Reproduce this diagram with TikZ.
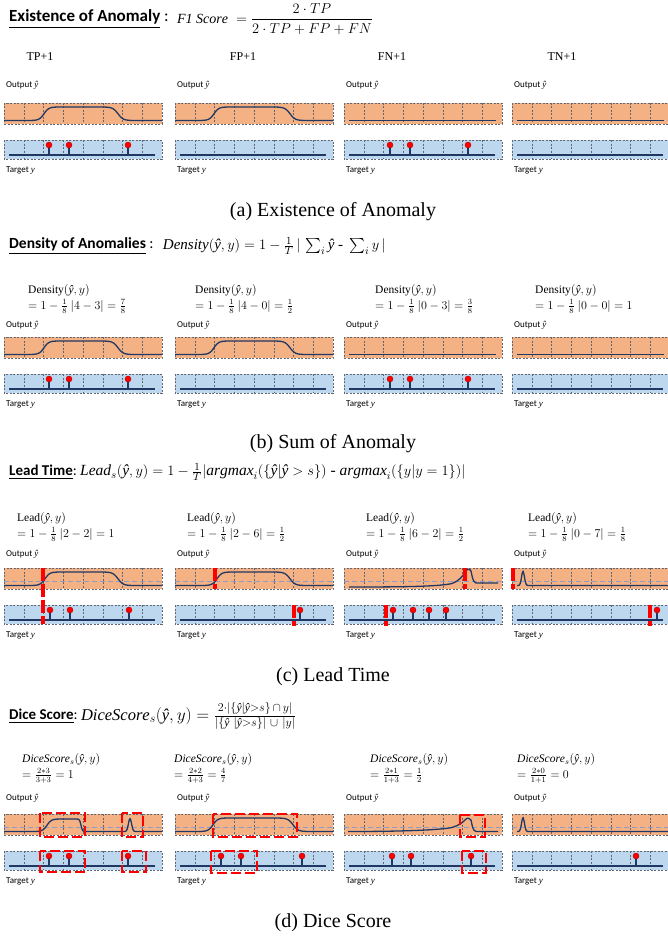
\documentclass[tikz,border=0pt]{standalone}
\usepackage{amsmath, amssymb}
\usepackage{fontspec}
\setmainfont{Liberation Serif}
\newfontfamily\calibri{Carlito}
\usepackage{xcolor}
\usetikzlibrary{calc, positioning}

\definecolor{outfill}{HTML}{F4B183}
\definecolor{tgtfill}{HTML}{BDD7EE}
\definecolor{navy}{HTML}{203864}
\definecolor{gridc}{HTML}{5F6775}
\definecolor{thrc}{HTML}{8E9CC9}

% y hat as one glyph
\newcommand{\yh}{\text{\normalfont\rmfamily\itshape ŷ}}

% output lane (orange) and target lane (blue) of one column
\newcommand{\lanes}{%
  \fill[outfill] (0,0) rectangle (158,21);
  \fill[tgtfill] (0,37) rectangle (158,56);
  \foreach \i in {1,...,7} {
    \draw[gridln] (19.75*\i,0) -- (19.75*\i,21);
    \draw[gridln] (19.75*\i,37) -- (19.75*\i,56);
  }
  \draw[gridln] (0,0) rectangle (158,21);
  \draw[gridln] (0,37) rectangle (158,56);
  \draw[curve] (5,52) -- (151,52);
}
% anomalies on the target lane
\newcommand{\pins}[1]{%
  \foreach \p in {#1} {
    \draw[stem] (\p,52) -- (\p,42);
    \filldraw[pinhead] (\p,42) circle (3);
  }
}

\begin{document}
\begin{tikzpicture}[x=1pt, y=-1pt,
    declare function={
      sig(\z)=1/(1+exp(-max(min(\z,9),-9)));
      bump(\t,\c,\w)=exp(-min(((\t-\c)/\w)*((\t-\c)/\w),9));
      plat(\t,\a,\b)=17.5-13.5*(sig((\t-\a)/2.4)-sig((\t-\b)/2.6));
    },
    gridln/.style={draw=gridc, line width=0.5pt, dash pattern=on 2pt off 1.5pt},
    curve/.style={draw=navy, line width=1.3pt, line join=round},
    stem/.style={draw=navy, line width=1.2pt},
    pinhead/.style={fill=red, draw=red!70!black, line width=0.4pt},
    thr/.style={draw=thrc, line width=0.9pt, dash pattern=on 5pt off 3pt},
    leadmk/.style={draw=red, line width=3.5pt, dash pattern=on 13pt off 3pt},
    dicebox/.style={draw=red, line width=2.8pt, dash pattern=on 10pt off 4pt},
    hdr/.style={anchor=west, inner sep=0pt, font=\calibri\bfseries\fontsize{15}{18}\selectfont},
    frm/.style={anchor=west, inner sep=0pt, font=\fontsize{15}{18}\selectfont},
    sub/.style={inner sep=0pt, font=\fontsize{12}{14}\selectfont},
    sub2/.style={anchor=north west, align=left, inner sep=0pt, font=\fontsize{11.5}{16}\selectfont},
    smalllbl/.style={anchor=west, inner sep=0pt, font=\calibri\fontsize{9}{10}\selectfont},
    capt/.style={inner sep=0pt, font=\fontsize{20}{24}\selectfont}]
    \useasboundingbox (0,0) rectangle (667,939);

    % Lanes of all four rows
    \foreach \s/\Y/\oy in {a/103/85, b/337/325, c/568/554, d/814/798} {
      \foreach \k/\xo in {1/4, 2/175, 3/344, 4/512} {
        \begin{scope}[shift={(\xo,\Y)}]
          \lanes
        \end{scope}
        \node[smalllbl] (out\s\k) at (\xo+2,\oy) {Output {\rmfamily\itshape ŷ}};
        \node[smalllbl] (tgt\s\k) at (\xo+2,\Y+68) {Target {\rmfamily\itshape y}};
      }
    }

    % (a) Existence of anomaly
    \node[hdr, font=\calibri\bfseries\fontsize{17}{20}\selectfont] (hdA) at (9,19) {\underline{Existence of Anomaly}\mdseries\ :};
    \node[frm, font=\fontsize{14}{17}\selectfont, right=8pt of hdA] (fA) {$\mathit{F1}\ \mathit{Score}\;=\dfrac{2\cdot TP}{2\cdot TP+FP+FN}$};
    \node[sub] (sa1) at (40,57) {TP+1};
    \node[sub] (sa2) at (243,57) {FP+1};
    \node[sub] (sa3) at (392,57) {FN+1};
    \node[sub] (sa4) at (562,57) {TN+1};
    \begin{scope}[shift={(4,103)}]
      \draw[curve] plot[domain=0:158, samples=150] (\x,{plat(\x,40,114)});
      \pins{45,65,124}
    \end{scope}
    \begin{scope}[shift={(175,103)}]
      \draw[curve] plot[domain=0:158, samples=150] (\x,{plat(\x,39,115)});
    \end{scope}
    \begin{scope}[shift={(344,103)}]
      \draw[curve] (5,17.5) -- (152,17.5);
      \pins{46,66,124}
    \end{scope}
    \begin{scope}[shift={(512,103)}]
      \draw[curve] (5,17.5) -- (152,17.5);
    \end{scope}
    \node[capt] (capA) at (333,212) {(a) Existence of Anomaly};

    % (b) Density of anomalies
    \node[hdr, font=\calibri\bfseries\fontsize{15.5}{18}\selectfont] (hdB) at (9,246) {\underline{Density of Anomalies}\mdseries\ :};
    \node[frm, right=9pt of hdB] (fB) {$\mathit{Density}(\yh,y)=1-\frac{1}{T}\,|\,\sum\nolimits_i\yh\ \text{-}\ \sum\nolimits_i y\,|$};
    \node[sub2] (sb1) at (28,284) {$\mathrm{Density}(\yh,y)$\\$=1-\frac{1}{8}\ |4-3|=\frac{7}{8}$};
    \node[sub2] (sb2) at (195,284) {$\mathrm{Density}(\yh,y)$\\$=1-\frac{1}{8}\ |4-0|=\frac{1}{2}$};
    \node[sub2] (sb3) at (375,284) {$\mathrm{Density}(\yh,y)$\\$=1-\frac{1}{8}\ |0-3|=\frac{3}{8}$};
    \node[sub2] (sb4) at (535,284) {$\mathrm{Density}(\yh,y)$\\$=1-\frac{1}{8}\ |0-0|=1$};
    \begin{scope}[shift={(4,337)}]
      \draw[curve] plot[domain=0:158, samples=150] (\x,{plat(\x,40,114)});
      \pins{45,65,124}
    \end{scope}
    \begin{scope}[shift={(175,337)}]
      \draw[curve] plot[domain=0:158, samples=150] (\x,{plat(\x,39,115)});
    \end{scope}
    \begin{scope}[shift={(344,337)}]
      \draw[curve] (5,17.5) -- (152,17.5);
      \pins{46,66,124}
    \end{scope}
    \begin{scope}[shift={(512,337)}]
      \draw[curve] (5,17.5) -- (152,17.5);
    \end{scope}
    \node[capt] (capB) at (333,444) {(b) Sum of Anomaly};

    % (c) Lead time
    \node[hdr] (hdC) at (9,472) {\underline{Lead Time}\mdseries:};
    \node[frm, font=\fontsize{15.5}{18}\selectfont, right=3pt of hdC] (fC) {$\mathit{Lead}_s(\yh,y)=1-\frac{1}{T}|\mathit{argmax}_i(\{\yh|\yh>s\})\text{ - }\mathit{argmax}_i(\{y|y=1\})|$};
    \node[sub2] (sc1) at (17,512) {$\mathrm{Lead}(\yh,y)$\\$=1-\frac{1}{8}\ |2-2|=1$};
    \node[sub2] (sc2) at (187,512) {$\mathrm{Lead}(\yh,y)$\\$=1-\frac{1}{8}\ |2-6|=\frac{1}{2}$};
    \node[sub2] (sc3) at (366,512) {$\mathrm{Lead}(\yh,y)$\\$=1-\frac{1}{8}\ |6-2|=\frac{1}{2}$};
    \node[sub2] (sc4) at (528,512) {$\mathrm{Lead}(\yh,y)$\\$=1-\frac{1}{8}\ |0-7|=\frac{1}{8}$};
    \begin{scope}[shift={(4,568)}]
      \draw[thr] (0,13.5) -- (158,13.5);
      \draw[curve] plot[domain=0:158, samples=150] (\x,{plat(\x,41,114)});
      \pins{46,66,125}
      \draw[leadmk] (39,0) -- (39,56);
    \end{scope}
    \begin{scope}[shift={(175,568)}]
      \draw[thr] (0,13.5) -- (158,13.5);
      \draw[curve] plot[domain=0:158, samples=150] (\x,{plat(\x,42,115)});
      \pins{125}
      \draw[leadmk] (40,0) -- (40,21);
      \draw[leadmk] (119,37) -- (119,58);
    \end{scope}
    \begin{scope}[shift={(344,568)}]
      \draw[thr] (0,13.5) -- (158,13.5);
      \draw[curve] (5,19) .. controls (60,19) and (95,18.5) .. (108,15.5)
        .. controls (115,13) and (119,8) .. (121,4)
        .. controls (122.5,1) and (126,0.5) .. (127,3)
        .. controls (128,7) and (128.5,14) .. (132,15) -- (154,15);
      \pins{49,69,85,102}
      \draw[leadmk] (121,0) -- (121,21);
      \draw[leadmk] (42,37) -- (42,58);
    \end{scope}
    \begin{scope}[shift={(512,568)}]
      \draw[thr] (0,13.5) -- (158,13.5);
      \draw[curve] plot[domain=5:157, samples=150] (\x,{17.5-14.5*bump(\x,11,2)});
      \pins{145}
      \draw[leadmk] (1,0) -- (1,21);
      \draw[leadmk] (138,37) -- (138,58);
    \end{scope}
    \node[capt] (capC) at (333,677) {(c) Lead Time};

    % (d) Dice score
    \node[hdr] (hdD) at (9,716) {\underline{Dice Score}\mdseries:};
    \node[frm, font=\fontsize{16.5}{19}\selectfont, right=3pt of hdD] (fD) {$\mathit{DiceScore}_s(\yh,y)=\frac{2\cdot|\{\yh|\yh>s\}\,\cap\, y|}{|\{\yh\ |\yh>s\}|\ \cup\ |y|}$};
    \node[sub2] (sd1) at (22,753) {$\mathit{DiceScore}_s(\yh,y)$\\$=\frac{2*3}{3+3}=1$};
    \node[sub2] (sd2) at (174,753) {$\mathit{DiceScore}_s(\yh,y)$\\$=\frac{2*2}{4+3}=\frac{4}{7}$};
    \node[sub2] (sd3) at (370,753) {$\mathit{DiceScore}_s(\yh,y)$\\$=\frac{2*1}{1+3}=\frac{1}{2}$};
    \node[sub2] (sd4) at (517,753) {$\mathit{DiceScore}_s(\yh,y)$\\$=\frac{2*0}{1+1}=0$};
    \begin{scope}[shift={(4,814)}]
      \draw[thr] (0,13.5) -- (158,13.5);
      \draw[curve] plot[domain=0:158, samples=200]
        (\x,{17.5-12.5*(sig((\x-43)/2.2)-sig((\x-77)/0.7))-13*bump(\x,126,2.2)});
      \pins{45,65,124}
      \draw[dicebox] (36,-1) rectangle (81,23);
      \draw[dicebox] (118,-1) rectangle (139,23);
      \draw[dicebox] (36,37) rectangle (81,58);
      \draw[dicebox] (118,37) rectangle (142,58);
    \end{scope}
    \begin{scope}[shift={(175,814)}]
      \draw[thr] (0,13.5) -- (158,13.5);
      \draw[curve] plot[domain=0:158, samples=150] (\x,{plat(\x,38,118)});
      \pins{46,66,127}
      \draw[dicebox] (38,0) rectangle (122,23);
      \draw[dicebox] (36,37) rectangle (82,59);
    \end{scope}
    \begin{scope}[shift={(344,814)}]
      \draw[thr] (0,13.5) -- (158,13.5);
      \draw[curve] (4,17.5) .. controls (60,17.5) and (95,16) .. (108,13.5)
        .. controls (115,11.5) and (119,8) .. (121,6)
        .. controls (123,3.5) and (126,3.5) .. (127,6)
        .. controls (128,10) and (128.5,17) .. (132,17.5) -- (154,17.5);
      \pins{48,67,127}
      \draw[dicebox] (116,1) rectangle (141,23);
      \draw[dicebox] (118,37) rectangle (142,59);
    \end{scope}
    \begin{scope}[shift={(512,814)}]
      \draw[thr] (0,13.5) -- (158,13.5);
      \draw[curve] plot[domain=5:157, samples=150] (\x,{17.5-14*bump(\x,11,2)});
      \pins{124}
    \end{scope}
    \node[capt] (capD) at (333,923) {(d) Dice Score};
\end{tikzpicture}
\end{document}
